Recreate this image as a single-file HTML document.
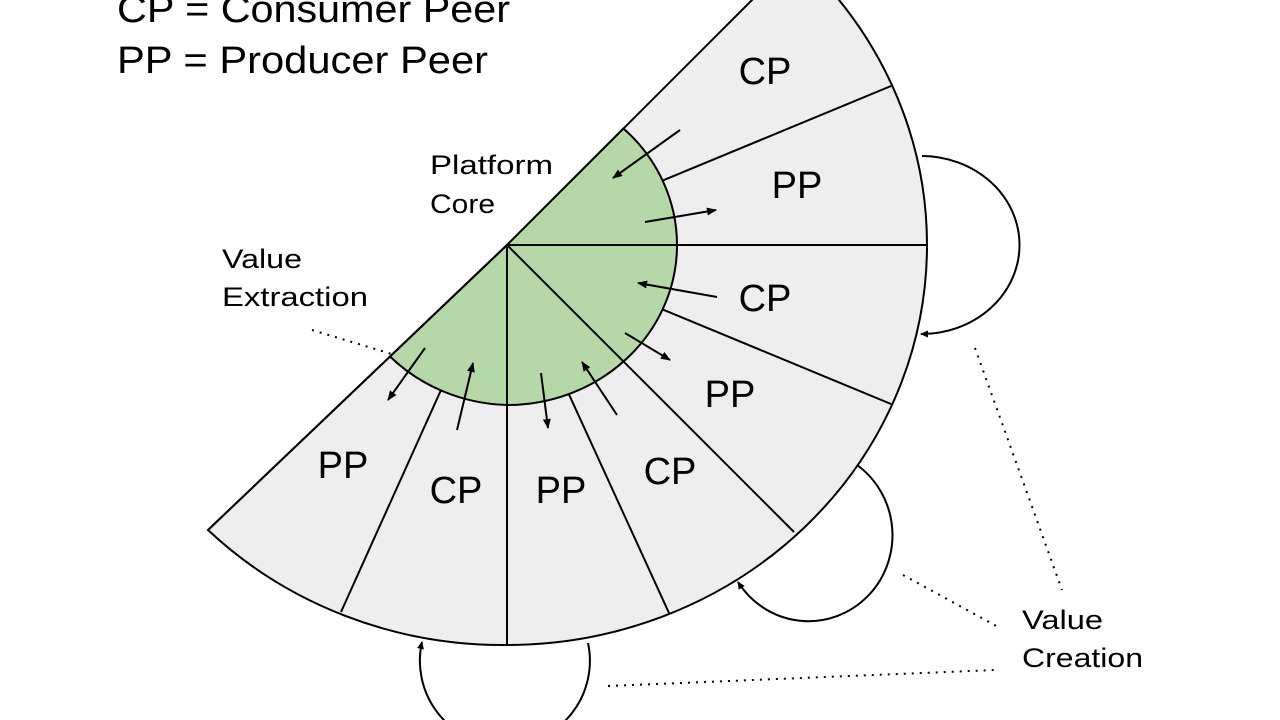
<!DOCTYPE html>
<html><head><meta charset="utf-8"><style>
html,body{margin:0;padding:0;background:#fff;}
svg{display:block;}
text{font-family:"Liberation Sans",sans-serif;}
</style></head><body>
<svg width="1280" height="720" viewBox="0 0 1280 720" xmlns="http://www.w3.org/2000/svg">
<defs>
<marker id="ah" markerWidth="10" markerHeight="8" refX="9" refY="4" orient="auto" markerUnits="userSpaceOnUse">
<path d="M0,0 L10,4 L0,8 Z" fill="#000"/></marker>
<marker id="sh" markerWidth="8" markerHeight="7" refX="7" refY="3.5" orient="auto" markerUnits="userSpaceOnUse">
<path d="M0,0 L8,3.5 L0,7 Z" fill="#000"/></marker>
</defs>
<path d="M507,245 L796.6,-44.6 A420,400 0 0 1 927,245 A420,400 0 0 1 507,645 A420,400 0 0 1 208,530 Z" fill="#eeeeee" stroke="#000" stroke-width="2"/>
<path d="M507,245 L623.5,128.5 A170,160 0 0 1 677,245 A170,160 0 0 1 507,405 A170,160 0 0 1 390,356.5 Z" fill="#b6d7a8" stroke="#000" stroke-width="2"/>
<g stroke="#000" stroke-width="2">
<line x1="507" y1="245" x2="208" y2="530"/>
<line x1="507" y1="245" x2="927" y2="245"/>
<line x1="507" y1="245" x2="507" y2="645"/>
<line x1="507" y1="245" x2="794" y2="532"/>
<line x1="662.6" y1="180.6" x2="891" y2="86"/>
<line x1="662.6" y1="309.4" x2="891" y2="404"/>
<line x1="568.8" y1="394" x2="669" y2="613"/>
<line x1="441" y1="390" x2="341" y2="612"/>
</g>
<g font-size="38" fill="#000">
<text x="765" y="84" text-anchor="middle">CP</text>
<text x="797" y="198" text-anchor="middle">PP</text>
<text x="765" y="311" text-anchor="middle">CP</text>
<text x="730" y="407" text-anchor="middle">PP</text>
<text x="670" y="484" text-anchor="middle">CP</text>
<text x="561" y="503" text-anchor="middle">PP</text>
<text x="456" y="503" text-anchor="middle">CP</text>
<text x="343" y="478" text-anchor="middle">PP</text>
</g>
<g stroke="#000" stroke-width="2" marker-end="url(#ah)">
<line x1="680" y1="130" x2="613" y2="178"/>
<line x1="645" y1="222" x2="716" y2="210"/>
<line x1="717" y1="297" x2="638" y2="283"/>
<line x1="625" y1="333" x2="670" y2="360"/>
<line x1="617" y1="415" x2="582" y2="362"/>
<line x1="541" y1="373" x2="548" y2="428"/>
<line x1="457" y1="430" x2="473" y2="363"/>
<line x1="425" y1="348" x2="388" y2="400"/>
</g>
<g fill="none" stroke="#000" stroke-width="2" marker-end="url(#sh)">
<path d="M922,156 A98,89 0 1 1 921,334"/>
<path d="M857,465 A84,86 0 1 1 738,582"/>
<path d="M588,643 A85,85 0 1 1 422,642"/>
</g>
<g stroke="#000" stroke-width="2" stroke-dasharray="2,6" fill="none">
<line x1="312" y1="330" x2="395" y2="355"/>
<line x1="975" y1="348" x2="1062" y2="590"/>
<line x1="903" y1="575" x2="1000" y2="628"/>
<line x1="608" y1="686" x2="995" y2="670"/>
</g>
<g font-size="27" fill="#000">
<text x="430" y="174" textLength="123" lengthAdjust="spacingAndGlyphs">Platform</text>
<text x="430" y="213" textLength="65" lengthAdjust="spacingAndGlyphs">Core</text>
<text x="222" y="268" textLength="80" lengthAdjust="spacingAndGlyphs">Value</text>
<text x="222" y="306" textLength="146" lengthAdjust="spacingAndGlyphs">Extraction</text>
<text x="1022" y="629" textLength="81" lengthAdjust="spacingAndGlyphs">Value</text>
<text x="1022" y="667" textLength="121" lengthAdjust="spacingAndGlyphs">Creation</text>
</g>
<g font-size="38" fill="#000">
<text x="117" y="22" textLength="393" lengthAdjust="spacingAndGlyphs">CP = Consumer Peer</text>
<text x="117" y="73" textLength="371" lengthAdjust="spacingAndGlyphs">PP = Producer Peer</text>
</g>
</svg>
</body></html>
